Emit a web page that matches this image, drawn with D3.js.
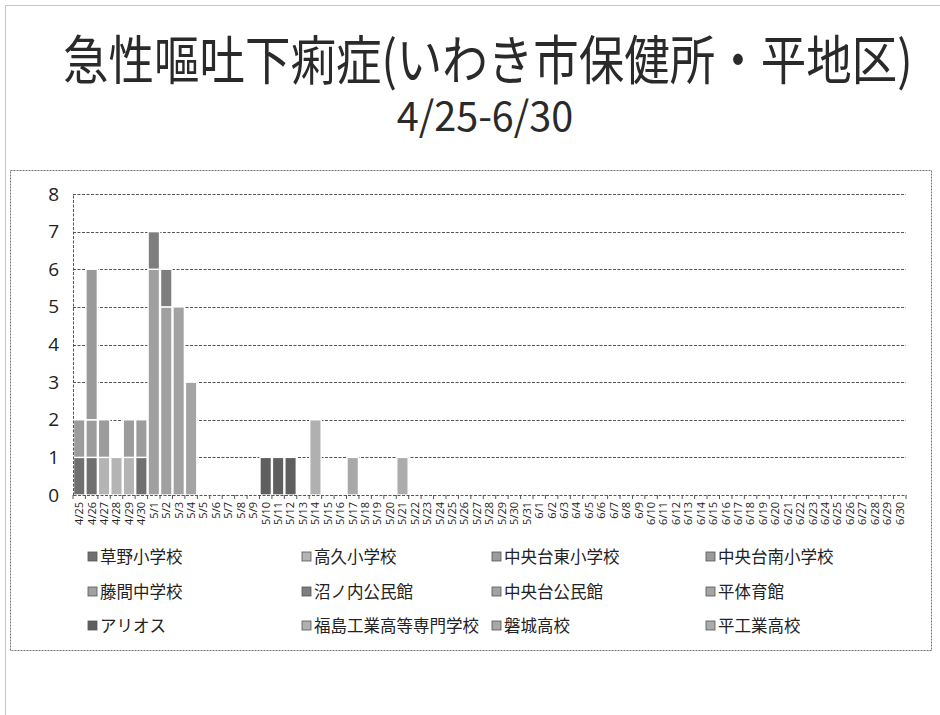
<!DOCTYPE html>
<html>
<head>
<meta charset="utf-8">
<script src="https://cdn.jsdelivr.net/npm/d3@7"></script>
<style>
  html, body { margin: 0; padding: 0; background: #fff; }
  svg { display: block; }
</style>
</head>
<body>
<svg id="chart" width="940" height="715"></svg>
<script>
// Reporting days, 4/25 through 6/30
const dates = [
  "4/25","4/26","4/27","4/28","4/29","4/30",
  "5/1","5/2","5/3","5/4","5/5","5/6","5/7","5/8","5/9","5/10","5/11","5/12","5/13","5/14","5/15","5/16",
  "5/17","5/18","5/19","5/20","5/21","5/22","5/23","5/24","5/25","5/26","5/27","5/28","5/29","5/30","5/31",
  "6/1","6/2","6/3","6/4","6/5","6/6","6/7","6/8","6/9","6/10","6/11","6/12","6/13","6/14","6/15","6/16",
  "6/17","6/18","6/19","6/20","6/21","6/22","6/23","6/24","6/25","6/26","6/27","6/28","6/29","6/30"
];

// Sites (stack order, bottom first)
const sites = [
  "草野小学校","高久小学校","中央台東小学校","中央台南小学校",
  "藤間中学校","沼ノ内公民館","中央台公民館","平体育館",
  "アリオス","福島工業高等専門学校","磐城高校","平工業高校"
];

// New cases per site: [day, count]
const casesKusano      = [["4/25",1],["4/26",1],["4/30",1]];
const casesTakaku      = [["4/27",1],["4/28",1],["4/29",1]];
const casesChuoHigashi = [["4/25",1],["4/26",1],["4/27",1],["4/29",1],["4/30",1]];
const casesChuoMinami  = [["4/26",4]];
const casesFujima      = [["5/1",6],["5/2",5]];
const casesNunouchi    = [["5/1",1],["5/2",1]];
const casesChuoKominkan= [["5/3",5]];
const casesTaiikukan   = [["5/4",3]];
const casesAlios       = [["5/10",1],["5/11",1],["5/12",1]];
const casesKosen       = [["5/14",2]];
const casesIwaki       = [["5/17",1]];
const casesTaiko       = [["5/21",1]];

const yTicks = [0,1,2,3,4,5,6,7,8];

const siteCases = [
  casesKusano, casesTakaku, casesChuoHigashi, casesChuoMinami,
  casesFujima, casesNunouchi, casesChuoKominkan, casesTaiikukan,
  casesAlios, casesKosen, casesIwaki, casesTaiko
];

const fills = [
  "#707070","#b4b4b4","#9c9c9c","#9a9a9a",
  "#a0a0a0","#7e7e7e","#a2a2a2","#a4a4a4",
  "#5f5f5f","#b0b0b0","#a8a8a8","#acacac"
];

// One row per day, one column per site
const table = dates.map(d => {
  const row = { date: d };
  sites.forEach((s, i) => {
    const hit = siteCases[i].find(c => c[0] === d);
    row[s] = hit ? hit[1] : 0;
  });
  return row;
});

const svg = d3.select("#chart");
const jp = "'Noto Sans CJK JP', 'Noto Sans', sans-serif";

// page edges
svg.append("line").attr("x1", 5).attr("x2", 940).attr("y1", 5.5).attr("y2", 5.5)
  .attr("stroke", "#c8c8c8").attr("stroke-width", 1);
svg.append("line").attr("x1", 5.5).attr("x2", 5.5).attr("y1", 5).attr("y2", 715)
  .attr("stroke", "#c8c8c8").attr("stroke-width", 1);

// titles (slightly tall, narrow lettering)
svg.append("text")
  .attr("transform", "translate(63,80) scale(1,1.18)")
  .attr("font-family", jp).attr("font-size", 45.5).attr("fill", "#2a2a2a")
  .text("急性嘔吐下痢症(いわき市保健所・平地区)");

svg.append("text")
  .attr("transform", "translate(485,131) scale(1.07,1.1)")
  .attr("text-anchor", "middle")
  .attr("font-family", jp).attr("font-size", 37).attr("fill", "#2a2a2a")
  .text("4/25-6/30");

// chart frame
svg.append("rect")
  .attr("x", 10.5).attr("y", 170.5).attr("width", 921).attr("height", 480)
  .attr("fill", "none").attr("stroke", "#777").attr("stroke-width", 1)
  .attr("stroke-dasharray", "2,1");

const plot = { left: 73, right: 906, top: 194, bottom: 495 };

const x = d3.scaleBand().domain(dates).range([plot.left, plot.right]).paddingInner(0).paddingOuter(0);
const y = d3.scaleLinear().domain([0, 8]).range([plot.bottom, plot.top]);

// gridlines
svg.append("g")
  .selectAll("line").data(yTicks.filter(t => t > 0)).join("line")
  .attr("x1", plot.left).attr("x2", plot.right)
  .attr("y1", d => Math.round(y(d)) + 0.5).attr("y2", d => Math.round(y(d)) + 0.5)
  .attr("stroke", "#555").attr("stroke-width", 1).attr("stroke-dasharray", "3,1.5");

// stacked columns
const stack = d3.stack().keys(sites);
const layers = stack(table);

svg.append("g")
  .selectAll("g").data(layers).join("g")
  .attr("fill", (d, i) => fills[i])
  .selectAll("rect").data(d => d.filter(p => p[1] - p[0] > 0)).join("rect")
  .attr("x", d => x(d.data.date) + 0.5)
  .attr("width", x.bandwidth() - 1)
  .attr("y", d => y(d[1]))
  .attr("height", d => y(d[0]) - y(d[1]))
  .attr("stroke", "#fff").attr("stroke-width", 1.4);

// y axis
const yAxis = svg.append("g")
  .attr("transform", `translate(${plot.left},0)`)
  .call(d3.axisLeft(y).tickValues(yTicks).tickSize(0).tickPadding(14));
yAxis.select(".domain").attr("stroke", "#555").attr("stroke-dasharray", "3,1.5");
yAxis.selectAll("text")
  .attr("font-family", "'Open Sans', 'DejaVu Sans', sans-serif")
  .attr("font-size", 19).attr("fill", "#222");

// x axis
const xAxis = svg.append("g")
  .attr("transform", `translate(0,${plot.bottom})`)
  .call(d3.axisBottom(x).tickSize(0).tickPadding(6));
xAxis.select(".domain").attr("stroke", "#555").attr("stroke-dasharray", "3,1.5");
xAxis.selectAll("text")
  .attr("font-family", "'Open Sans', 'DejaVu Sans', sans-serif")
  .attr("font-size", 11).attr("fill", "#222")
  .attr("text-anchor", "end")
  .attr("transform", "rotate(-90)")
  .attr("x", -7).attr("y", 0)
  .attr("dx", 0).attr("dy", "0.35em");
xAxis.selectAll(".tick line").remove();

// category boundary ticks
svg.append("g")
  .selectAll("line").data(dates.concat(["end"])).join("line")
  .attr("x1", (d, i) => plot.left + i * x.step())
  .attr("x2", (d, i) => plot.left + i * x.step())
  .attr("y1", plot.bottom).attr("y2", plot.bottom + 4)
  .attr("stroke", "#555").attr("stroke-width", 1);

// legend
const legendCols = [88, 302, 492, 706];
const legendRows = [557, 592, 626];
const legend = svg.append("g")
  .selectAll("g").data(sites).join("g")
  .attr("transform", (d, i) => `translate(${legendCols[i % 4]},${legendRows[Math.floor(i / 4)]})`);
legend.append("rect")
  .attr("x", 0).attr("y", -5).attr("width", 9).attr("height", 9)
  .attr("fill", (d, i) => fills[i]).attr("stroke", "#555").attr("stroke-width", 0.8);
legend.append("text")
  .attr("x", 12).attr("y", 0).attr("dy", "0.36em")
  .attr("font-family", jp).attr("font-size", 16.5).attr("fill", "#222")
  .text(d => d);
</script>
</body>
</html>
